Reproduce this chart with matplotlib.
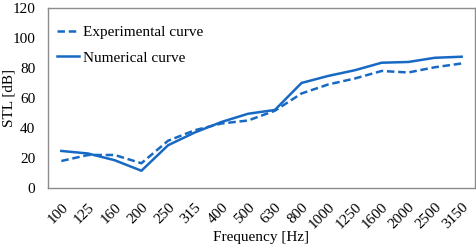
import numpy as np
import matplotlib
matplotlib.use('Agg')
import matplotlib.pyplot as plt

freqs = ["100", "125", "160", "200", "250", "315", "400", "500", "630",
         "800", "1000", "1250", "1600", "2000", "2500", "3150"]
experimental = [18, 22, 22, 16.5, 31.5, 38.5, 43, 45, 51.5,
                63, 69, 73, 78, 77, 80.5, 83]
numerical = [24.7, 23, 18.5, 11.5, 28.5, 37, 44, 49.5, 52,
             70, 74.7, 78.5, 83.5, 84, 86.8, 87.5]

plt.rcParams['font.family'] = ['Liberation Serif', 'DejaVu Serif']
color = '#1769c4'
fs = 11

fig = plt.figure(figsize=(4.77, 2.49), dpi=100)
ax = fig.add_axes([0.1006, 0.245, 0.8952, 0.723])

x = np.arange(len(freqs))
ax.plot(x, experimental, color=color, linewidth=1.8, linestyle=(0, (3, 1.5)), label='Experimental curve')
ax.plot(x, numerical, color=color, linewidth=1.8, label='Numerical curve')

ax.set_xlim(-0.5, len(freqs) - 0.5)
ax.set_ylim(0, 120)
ax.set_yticks(range(0, 121, 20))
ax.set_xticks(x)
ax.set_xticklabels(freqs, rotation=45, ha='right', rotation_mode='anchor')
ax.tick_params(axis='both', length=0, labelsize=fs)
ax.tick_params(axis='y', pad=9)
ax.tick_params(axis='x', pad=9)
for s in ax.spines.values():
    s.set_color('#8c8c8c')
    s.set_linewidth(1.0)

ax.set_xlabel('Frequency [Hz]', fontsize=fs, labelpad=0)
ax.set_ylabel('STL [dB]', fontsize=fs, va='center')
ax.yaxis.set_label_coords(-0.092, 0.5)
ax.legend(loc='upper left', bbox_to_anchor=(0.007, 0.935), frameon=False, fontsize=fs,
          handlelength=1.45, handletextpad=0.25, borderaxespad=0, labelspacing=0.75)

fig.savefig('out.png', dpi=100)
